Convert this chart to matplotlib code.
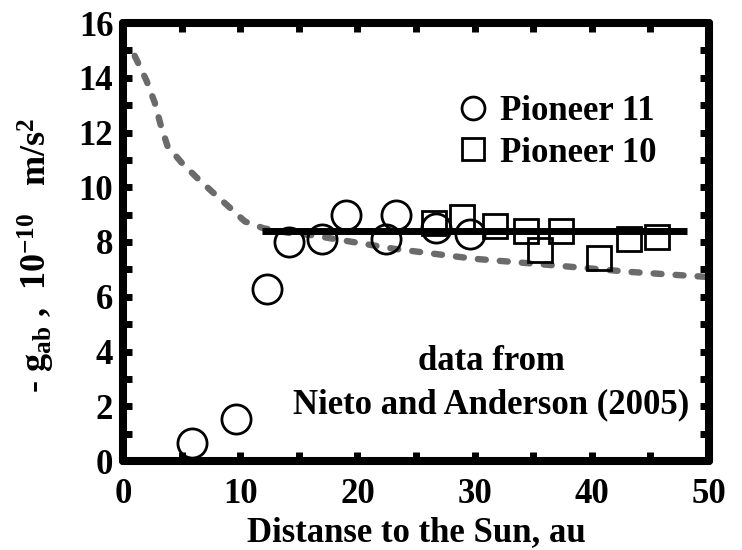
import matplotlib
matplotlib.use("Agg")
import matplotlib.pyplot as plt
from matplotlib.lines import Line2D

# Pioneer 11 (circles)
p11_x = [5.9, 9.6, 12.3, 14.2, 17.0, 19.0, 22.4, 23.3, 26.7, 29.6]
p11_y = [0.66, 1.55, 6.3, 8.0, 8.1, 9.0, 8.1, 9.0, 8.5, 8.3]
# Pioneer 10 (squares)
p10_x = [26.5, 28.9, 31.7, 34.4, 35.6, 37.4, 40.6, 43.2, 45.6]
p10_y = [8.7, 8.9, 8.6, 8.4, 7.7, 8.4, 7.4, 8.1, 8.2]
# constant fit line
fit_x = [11.9, 48.1]
fit_y = [8.4, 8.4]
# dashed model curve
mod_x = [1.0, 2.0, 2.7, 3.2, 3.8, 5.0, 6.3, 7.7, 9.0, 10.4, 12.0, 14.2, 16.1,
         23.0, 29.9, 36.7, 43.5, 50.0]
mod_y = [14.8, 13.9, 13.1, 12.3, 11.5, 10.9, 10.35, 9.8, 9.3, 8.75, 8.5, 8.33, 8.25,
         7.76, 7.39, 7.15, 6.9, 6.72]

FS = 25
plt.rcParams['font.family'] = ['Liberation Serif', 'DejaVu Serif']
plt.rcParams['font.weight'] = 'bold'
plt.rcParams['mathtext.fontset'] = 'custom'
plt.rcParams['mathtext.rm'] = 'Liberation Serif:bold'
plt.rcParams['mathtext.bf'] = 'Liberation Serif:bold'
plt.rcParams['mathtext.it'] = 'Liberation Serif:bold'

fig = plt.figure(figsize=(7.42, 5.5), dpi=100)
# frame: x 123..709 px, y 23..461 px
ax = fig.add_axes([123 / 742, (550 - 461) / 550, 586 / 742, 438 / 550])

ax.plot(mod_x, mod_y, color='#6b6b6b', lw=4.6, dashes=(1.25, 2.2),
        dash_capstyle='round', zorder=2)
ax.plot(fit_x, fit_y, color='black', lw=5, solid_capstyle='butt', zorder=3)
ax.plot(p10_x, p10_y, 's', ms=17, mfc='none', mec='black', mew=2, zorder=4)
ax.plot(p11_x, p11_y, 'o', ms=21, mfc='none', mec='black', mew=2, zorder=5)

ax.set_xlim(0, 50)
ax.set_ylim(0, 16)
ax.set_xticks([0, 10, 20, 30, 40, 50])
ax.set_xticks(range(0, 51, 5), minor=True)
ax.set_yticks(range(0, 17, 2))
ax.set_yticks(range(0, 17, 1), minor=True)
for s in ax.spines.values():
    s.set_linewidth(5.8)
    s.set_capstyle('round')
ax.tick_params(which='both', direction='in', length=6.5, width=5,
               top=True, right=True, labelsize=FS)
ax.tick_params(axis='x', which='both', pad=12)
ax.tick_params(axis='y', which='both', pad=7)
for lab in ax.get_xticklabels() + ax.get_yticklabels():
    lab.set_fontweight('bold')

ax.set_xlabel('Distanse to the Sun, au', fontsize=FS, fontweight='bold', labelpad=4)
ax.set_ylabel(r'- g$_{\mathregular{ab}}$ ,  10$^{\mathregular{ -10}}$   m/s$^{\mathregular{2}}$',
              fontsize=26, fontweight='bold')
ax.yaxis.set_label_coords(-0.113, 0.47)

handles = [Line2D([], [], ls='none', marker='o', ms=16.5, mfc='none', mec='black', mew=2),
           Line2D([], [], ls='none', marker='s', ms=16.5, mfc='none', mec='black', mew=2)]
leg = ax.legend(handles, ['Pioneer 11', 'Pioneer 10'], loc='upper left',
                bbox_to_anchor=(0.567, 0.836), frameon=False,
                handletextpad=0.3, handlelength=1.0, labelspacing=0.25,
                borderaxespad=0, borderpad=0,
                prop={'weight': 'bold', 'size': FS})

ax.text(31.4, 3.32, 'data from', ha='center', va='baseline', fontsize=FS, fontweight='bold')
ax.text(31.4, 1.75, 'Nieto and Anderson (2005)', ha='center', va='baseline',
        fontsize=FS, fontweight='bold')

fig.savefig('out.png', dpi=100)
